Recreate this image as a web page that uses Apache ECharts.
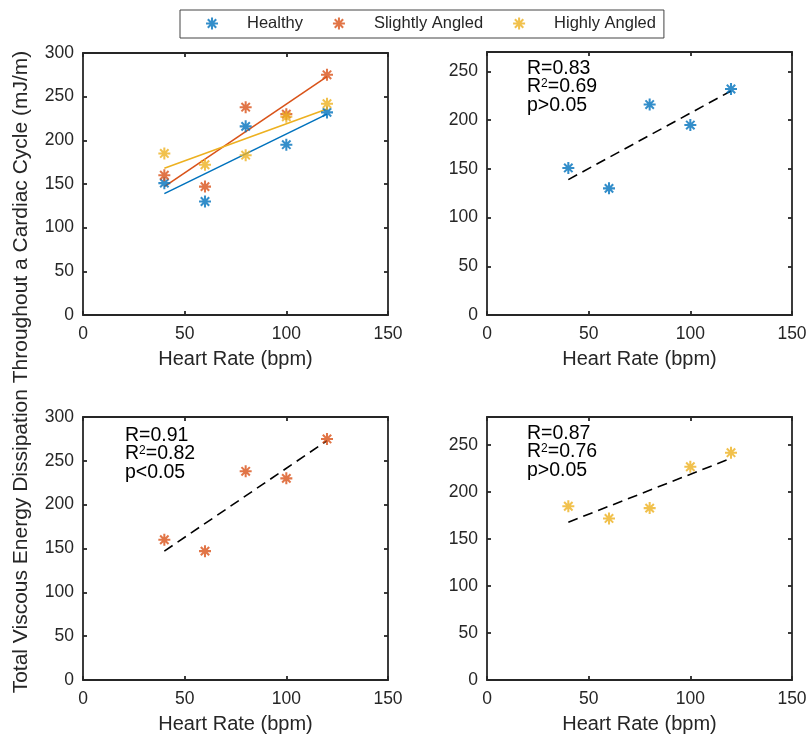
<!DOCTYPE html>
<html>
<head>
<meta charset="utf-8">
<script src="https://cdn.jsdelivr.net/npm/echarts@6/dist/echarts.min.js"></script>
<style>
  html, body { margin: 0; padding: 0; background: #fff; }
  #chart { width: 810px; height: 744px; }
</style>
</head>
<body>
<div id="chart"></div>
<script>
// Heart rate levels (bpm)
const heartRate = [40, 60, 80, 100, 120];

// Total viscous energy dissipation (mJ/m) per group
const healthy = [151, 130, 216, 195, 232];
const slightlyAngled = [160, 147, 238, 230, 275];
const highlyAngled = [185, 172, 183, 227, 242];

// Linear fit end values at 40 and 120 bpm
const fitX = [40, 120];
const fitHealthy = [139, 230];
const fitSlightly = [147, 273];
const fitHighly = [168, 236];

// Correlation statistics
const statsHealthy = ['0.83', '0.69', 'p>0.05'];
const statsSlightly = ['0.91', '0.82', 'p<0.05'];
const statsHighly = ['0.87', '0.76', 'p>0.05'];

// Axis settings
const xMax = 150, xStep = 50;
const yMaxByPanel = [300, 270, 300, 280];
const yStep = 50;

const groupNames = ['Healthy', 'Slightly Angled', 'Highly Angled'];
const colors = ['#0072BD', '#D95319', '#EDB120'];

const FONT = 'Liberation Sans, Arial, Helvetica, sans-serif';
const INK = '#262626';

// eight-spoke asterisk marker
const ASTERISK = 'path://M0 8.3L20 8.3L20 11.7L0 11.7Z' +
  'M8.3 0L11.7 0L11.7 20L8.3 20Z' +
  'M1.8 4.2L4.2 1.8L18.2 15.8L15.8 18.2Z' +
  'M15.8 1.8L18.2 4.2L4.2 18.2L1.8 15.8Z';

const grids = [
  { left: 83, top: 53, width: 305, height: 262 },
  { left: 487, top: 52, width: 305, height: 263 },
  { left: 83, top: 417, width: 305, height: 263 },
  { left: 487, top: 417, width: 305, height: 263 }
];

const xAxes = [], yAxes = [];
grids.forEach((g, i) => {
  const axisLine = () => ({ show: true, onZero: false, lineStyle: { color: INK, width: 1.8 } });
  const tick = () => ({ show: true, inside: true, length: 4, lineStyle: { color: INK, width: 1.8 } });
  xAxes.push({
    type: 'value', gridIndex: i, position: 'bottom', min: 0, max: xMax, interval: xStep,
    axisLine: axisLine(), axisTick: tick(), splitLine: { show: false },
    axisLabel: { color: INK, fontSize: 17.5, fontFamily: FONT, margin: 10 },
    name: 'Heart Rate (bpm)', nameLocation: 'middle', nameGap: 34,
    nameTextStyle: { color: INK, fontSize: 20, fontFamily: FONT }
  });
  xAxes.push({
    type: 'value', gridIndex: i, position: 'top', min: 0, max: xMax, interval: xStep,
    axisLine: axisLine(), axisTick: tick(), splitLine: { show: false }, axisLabel: { show: false }
  });
  yAxes.push({
    type: 'value', gridIndex: i, position: 'left', min: 0, max: yMaxByPanel[i], interval: yStep,
    axisLine: axisLine(), axisTick: tick(), splitLine: { show: false },
    axisLabel: { color: INK, fontSize: 17.5, fontFamily: FONT, margin: 9, showMaxLabel: yMaxByPanel[i] % yStep === 0 }
  });
  yAxes.push({
    type: 'value', gridIndex: i, position: 'right', min: 0, max: yMaxByPanel[i], interval: yStep,
    axisLine: axisLine(), axisTick: tick(), splitLine: { show: false }, axisLabel: { show: false }
  });
});

const pairs = (xs, ys) => xs.map((x, k) => [x, ys[k]]);

function scatter(name, values, panel, color) {
  return {
    type: 'scatter', name, xAxisIndex: panel * 2, yAxisIndex: panel * 2,
    data: pairs(heartRate, values), symbol: ASTERISK, symbolSize: 12,
    itemStyle: { color }, z: 3, silent: true
  };
}
function fitLine(name, values, panel, color, dashed) {
  return {
    type: 'line', name, xAxisIndex: panel * 2, yAxisIndex: panel * 2,
    data: pairs(fitX, values), symbol: 'none', silent: true, z: 2,
    itemStyle: { color },
    lineStyle: dashed ? { color: '#000', width: 1.6, type: [10, 6] } : { color, width: 1.6 }
  };
}

const series = [
  // all three groups together, with their own fits
  fitLine('fit Healthy', fitHealthy, 0, colors[0], false),
  fitLine('fit Slightly', fitSlightly, 0, colors[1], false),
  fitLine('fit Highly', fitHighly, 0, colors[2], false),
  scatter(groupNames[0], healthy, 0, colors[0]),
  scatter(groupNames[1], slightlyAngled, 0, colors[1]),
  scatter(groupNames[2], highlyAngled, 0, colors[2]),
  // one group per panel with a dashed fit
  fitLine('fit Healthy ', fitHealthy, 1, '#000', true),
  scatter(groupNames[0], healthy, 1, colors[0]),
  fitLine('fit Slightly ', fitSlightly, 2, '#000', true),
  scatter(groupNames[1], slightlyAngled, 2, colors[1]),
  fitLine('fit Highly ', fitHighly, 3, '#000', true),
  scatter(groupNames[2], highlyAngled, 3, colors[2])
];

function statsText(stats, x, y) {
  return {
    type: 'text', x, y, silent: true,
    style: {
      text: 'R=' + stats[0] + '\nR{sup|2}=' + stats[1] + '\n' + stats[2],
      fill: '#000', fontSize: 19.5, fontFamily: FONT, lineHeight: 18.5,
      rich: { sup: { fontSize: 12, verticalAlign: 'top', lineHeight: 10, fill: '#000', fontFamily: FONT } }
    }
  };
}

const option = {
  animation: false,
  backgroundColor: '#fff',
  grid: grids.map(g => Object.assign({ containLabel: false }, g)),
  xAxis: xAxes,
  yAxis: yAxes,
  legend: {
    data: groupNames, selectedMode: false,
    left: 180, top: 10, itemWidth: 12, itemHeight: 12, itemGap: 30,
    padding: [5, 8, 6, 26],
    borderColor: '#444', borderWidth: 1,
    textStyle: { color: INK, fontSize: 16.5, fontFamily: FONT, padding: [0, 0, 0, 24] }
  },
  series,
  graphic: [
    {
      type: 'text', x: 21, y: 372, rotation: Math.PI / 2, silent: true,
      style: {
        text: 'Total Viscous Energy Dissipation Throughout a Cardiac Cycle (mJ/m)',
        fill: INK, fontSize: 21, fontFamily: FONT, textAlign: 'center', textVerticalAlign: 'middle'
      }
    },
    statsText(statsHealthy, 527, 59),
    statsText(statsSlightly, 125, 426),
    statsText(statsHighly, 527, 424)
  ]
};

const chart = echarts.init(document.getElementById('chart'), null, { renderer: 'canvas' });
chart.setOption(option);
</script>
</body>
</html>
